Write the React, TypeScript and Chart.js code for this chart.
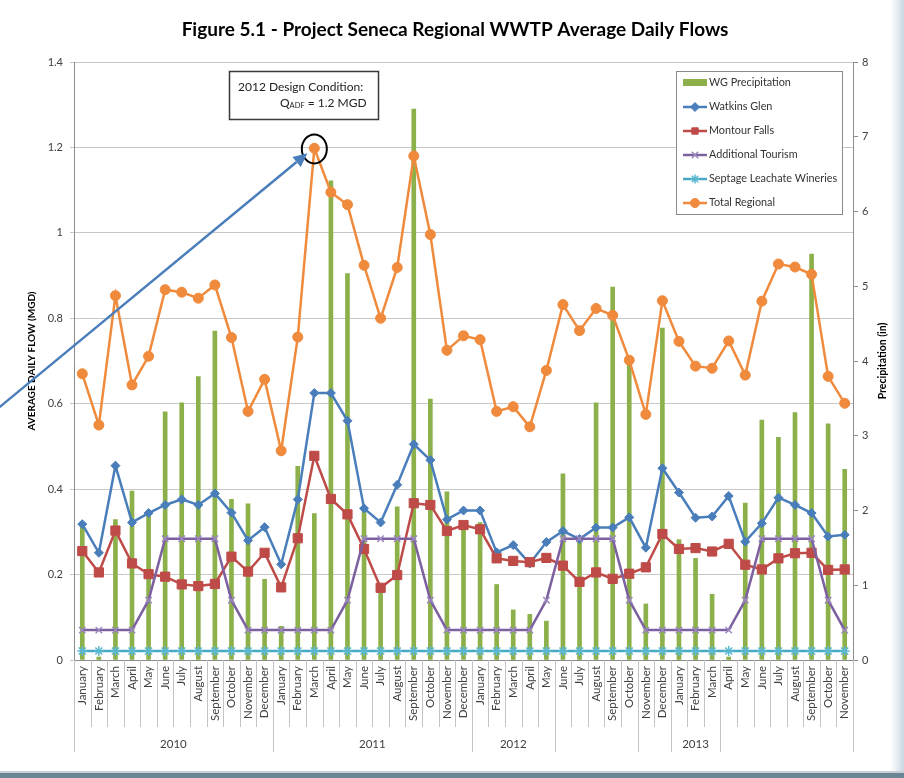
import React, { useEffect, useRef } from 'react';
import { Chart, registerables } from 'chart.js';
import { drawPoint } from 'chart.js/helpers';

Chart.register(...registerables);

const MONTH_NAMES = ['January', 'February', 'March', 'April', 'May', 'June', 'July', 'August', 'September', 'October', 'November', 'December'];
const categories = [...MONTH_NAMES, ...MONTH_NAMES, ...MONTH_NAMES, ...MONTH_NAMES.slice(0, 11)];

// Outer (year) category groups, as they appear on the reference axis
const yearGroupStarts = [0, 12, 24, 29, 34, 36, 39];
const yearGroupLabels = ['2010', '2011', '2012', '', '', '2013', ''];

const precipitation = [
  1.81, 0.04, 1.88, 2.26, 1.94, 3.32, 3.44, 3.79, 4.40, 2.15, 2.09, 1.08,
  0.45, 2.59, 1.96, 6.41, 5.17, 2.01, 0.90, 2.05, 7.37, 3.49, 2.25, 1.85,
  1.84, 1.01, 0.67, 0.61, 0.52, 2.49, 1.58, 3.44, 4.99, 3.97, 0.75, 4.44,
  1.61, 1.36, 0.88, 0.04, 2.10, 3.21, 2.98, 3.31, 5.43, 3.16, 2.55,
];
const watkinsGlen = [
  0.318, 0.251, 0.455, 0.322, 0.344, 0.363, 0.376, 0.363, 0.390, 0.345, 0.280, 0.311,
  0.224, 0.376, 0.625, 0.625, 0.560, 0.355, 0.322, 0.410, 0.505, 0.468, 0.329, 0.350,
  0.350, 0.252, 0.269, 0.226, 0.276, 0.302, 0.283, 0.310, 0.310, 0.334, 0.263, 0.449,
  0.392, 0.333, 0.336, 0.384, 0.277, 0.320, 0.380, 0.363, 0.344, 0.289, 0.293,
];
const montourFalls = [
  0.255, 0.205, 0.303, 0.226, 0.201, 0.195, 0.177, 0.173, 0.178, 0.242, 0.207, 0.251,
  0.170, 0.285, 0.478, 0.377, 0.341, 0.260, 0.169, 0.199, 0.367, 0.363, 0.302, 0.316,
  0.306, 0.238, 0.232, 0.229, 0.239, 0.221, 0.183, 0.205, 0.190, 0.202, 0.217, 0.295,
  0.260, 0.262, 0.254, 0.272, 0.223, 0.212, 0.238, 0.250, 0.251, 0.211, 0.212,
];
const additionalTourism = [
  0.07, 0.07, 0.07, 0.07, 0.14, 0.284, 0.284, 0.284, 0.284, 0.14, 0.07, 0.07,
  0.07, 0.07, 0.07, 0.07, 0.14, 0.284, 0.284, 0.284, 0.284, 0.14, 0.07, 0.07,
  0.07, 0.07, 0.07, 0.07, 0.14, 0.284, 0.284, 0.284, 0.284, 0.14, 0.07, 0.07,
  0.07, 0.07, 0.07, 0.07, 0.14, 0.284, 0.284, 0.284, 0.284, 0.14, 0.07,
];
const septageLeachateWineries = [
  0.021, 0.021, 0.021, 0.021, 0.021, 0.021, 0.021, 0.021, 0.021, 0.021, 0.021, 0.021,
  0.021, 0.021, 0.021, 0.021, 0.021, 0.021, 0.021, 0.021, 0.021, 0.021, 0.021, 0.021,
  0.021, 0.021, 0.021, 0.021, 0.021, 0.021, 0.021, 0.021, 0.021, 0.021, 0.021, 0.021,
  0.021, 0.021, 0.021, 0.021, 0.021, 0.021, 0.021, 0.021, 0.021, 0.021, 0.021,
];
const totalRegional = [
  0.670, 0.550, 0.853, 0.644, 0.711, 0.867, 0.861, 0.847, 0.878, 0.755, 0.582, 0.657,
  0.490, 0.756, 1.198, 1.095, 1.066, 0.924, 0.800, 0.919, 1.180, 0.996, 0.725, 0.759,
  0.750, 0.582, 0.593, 0.546, 0.678, 0.832, 0.771, 0.823, 0.807, 0.702, 0.575, 0.841,
  0.746, 0.688, 0.683, 0.747, 0.667, 0.840, 0.927, 0.920, 0.903, 0.664, 0.601,
];

const leftTicks = ['0', '0.2', '0.4', '0.6', '0.8', '1', '1.2', '1.4'];

const TITLE = 'Figure 5.1 - Project Seneca Regional WWTP Average Daily Flows';
const LEFT_TITLE = 'AVERAGE DAILY FLOW (MGD)';
const RIGHT_TITLE = 'Precipitation (in)';
const DESIGN_INDEX = 14;
const DESIGN_VALUE = 1.2;

const FONT = 'Lato, "Open Sans", sans-serif';

const decorPlugin = {
  id: 'decor',
  beforeDraw(chart: any) {
    const { ctx, width, height } = chart;
    ctx.save();
    ctx.fillStyle = '#ffffff';
    ctx.fillRect(0, 0, width, height);
    const g = ctx.createLinearGradient(890, 0, 904, 0);
    g.addColorStop(0, 'rgba(214,224,234,0)');
    g.addColorStop(1, 'rgba(200,213,226,1)');
    ctx.fillStyle = g;
    ctx.fillRect(890, 0, 14, height);
    ctx.fillStyle = '#c8d0d6';
    ctx.fillRect(0, 771, width, 2);
    ctx.fillStyle = '#6a8594';
    ctx.fillRect(0, 773, width, 5);
    ctx.restore();
  },
  afterDraw(chart: any) {
    const { ctx, chartArea } = chart;
    const xs = chart.scales.x;
    const ys = chart.scales.y;
    const n = categories.length;
    const catW = xs.getPixelForValue(1) - xs.getPixelForValue(0);
    const boundary = (i: number) => xs.getPixelForValue(Math.min(i, n - 1)) + (i < n ? -catW / 2 : catW / 2);
    ctx.save();

    // month separators
    ctx.strokeStyle = '#c4c4c4';
    ctx.lineWidth = 1;
    for (let i = 0; i <= n; i++) {
      const x = Math.round(boundary(i)) + 0.5;
      ctx.beginPath();
      ctx.moveTo(x, chartArea.bottom);
      ctx.lineTo(x, chartArea.bottom + 67);
      ctx.stroke();
    }
    // year group separators + labels
    const starts = [...yearGroupStarts, n];
    ctx.font = `11.5px ${FONT}`;
    ctx.fillStyle = '#404040';
    ctx.textAlign = 'center';
    ctx.textBaseline = 'middle';
    for (let k = 0; k < starts.length; k++) {
      const x = Math.round(boundary(starts[k])) + 0.5;
      ctx.beginPath();
      ctx.moveTo(x, chartArea.bottom);
      ctx.lineTo(x, chartArea.bottom + 92);
      ctx.stroke();
      if (k < yearGroupLabels.length && yearGroupLabels[k]) {
        const cx = (boundary(starts[k]) + boundary(starts[k + 1])) / 2;
        ctx.fillText(yearGroupLabels[k], cx, chartArea.bottom + 84);
      }
    }

    // title
    ctx.fillStyle = '#000';
    ctx.font = `bold 19px ${FONT}`;
    ctx.fillText(TITLE, 455, 30);

    // axis titles
    ctx.font = `bold 10px ${FONT}`;
    ctx.save();
    ctx.translate(32, (chartArea.top + chartArea.bottom) / 2);
    ctx.rotate(-Math.PI / 2);
    ctx.fillText(LEFT_TITLE, 0, 0);
    ctx.restore();
    ctx.font = `bold 10.5px ${FONT}`;
    ctx.save();
    ctx.translate(883, (chartArea.top + chartArea.bottom) / 2);
    ctx.rotate(-Math.PI / 2);
    ctx.fillText(RIGHT_TITLE, 0, 0);
    ctx.restore();

    // design condition: circle + arrow
    const px = xs.getPixelForValue(DESIGN_INDEX);
    const py = ys.getPixelForValue(DESIGN_VALUE);
    ctx.strokeStyle = '#000';
    ctx.lineWidth = 2;
    ctx.beginPath();
    ctx.ellipse(px, py + 1.5, 12.5, 14.5, 0, 0, Math.PI * 2);
    ctx.stroke();

    const sx = -10, sy = 415;
    const dx = px - sx, dy = py - sy;
    const len = Math.hypot(dx, dy);
    const ux = dx / len, uy = dy / len;
    const tipX = px - ux * 9, tipY = py - uy * 9 + 0;
    const headL = 14, headW = 6.5;
    const bx = tipX - ux * headL, by = tipY - uy * headL;
    ctx.strokeStyle = '#4A7EBB';
    ctx.fillStyle = '#4A7EBB';
    ctx.lineWidth = 2.5;
    ctx.beginPath();
    ctx.moveTo(sx, sy);
    ctx.lineTo(bx, by);
    ctx.stroke();
    ctx.beginPath();
    ctx.moveTo(tipX, tipY);
    ctx.lineTo(bx - uy * headW, by + ux * headW);
    ctx.lineTo(bx + uy * headW, by - ux * headW);
    ctx.closePath();
    ctx.fill();

    // design condition text box
    ctx.fillStyle = '#fff';
    ctx.fillRect(229.5, 71.5, 149, 48);
    ctx.strokeStyle = '#3a3a3a';
    ctx.lineWidth = 1.5;
    ctx.strokeRect(229.5, 71.5, 149, 48);
    ctx.fillStyle = '#222';
    ctx.textAlign = 'left';
    ctx.font = `12px ${FONT}`;
    ctx.fillText('2012 Design Condition:', 238, 87);
    let tx = 280;
    ctx.fillText('Q', tx, 103);
    tx += ctx.measureText('Q').width;
    ctx.font = `7.5px ${FONT}`;
    ctx.fillText('ADF', tx, 106);
    tx += ctx.measureText('ADF').width;
    ctx.font = `12px ${FONT}`;
    ctx.fillText(' = 1.2 MGD', tx, 103);

    // legend
    ctx.fillStyle = '#fff';
    ctx.fillRect(676.5, 71.5, 166, 143);
    ctx.strokeStyle = '#8a8a8a';
    ctx.lineWidth = 1;
    ctx.strokeRect(676.5, 71.5, 166, 143);
    const rowY = [82.5, 107, 131, 155, 179, 203];
    chart.data.datasets.forEach((ds: any, i: number) => {
      const y = rowY[i];
      if (ds.type === 'bar') {
        ctx.fillStyle = ds.backgroundColor;
        ctx.fillRect(683, y - 3.5, 24, 7);
      } else {
        ctx.strokeStyle = ds.borderColor;
        ctx.lineWidth = 2.5;
        ctx.beginPath();
        ctx.moveTo(683, y);
        ctx.lineTo(707, y);
        ctx.stroke();
        ctx.fillStyle = ds.pointBackgroundColor;
        ctx.strokeStyle = ds.pointBorderColor;
        ctx.lineWidth = ds.pointBorderWidth;
        drawPoint(ctx, { pointStyle: ds.pointStyle, rotation: 0, radius: Math.min(ds.pointRadius, 4.5), borderWidth: ds.pointBorderWidth }, 695, y);
      }
      ctx.fillStyle = '#333';
      ctx.font = `10.8px ${FONT}`;
      ctx.textAlign = 'left';
      ctx.textBaseline = 'middle';
      ctx.fillText(ds.label, 709, y);
    });

    ctx.restore();
  },
};

export default function App() {
  const ref = useRef<HTMLCanvasElement>(null);
  useEffect(() => {
    const canvas = ref.current;
    if (!canvas) return;
    const lineBase = { type: 'line', yAxisID: 'y', fill: false, tension: 0, borderWidth: 2.5 };
    const chart = new Chart(canvas, {
      type: 'bar',
      data: {
        labels: categories,
        datasets: [
          { type: 'bar', label: 'WG Precipitation', data: precipitation, yAxisID: 'y2', backgroundColor: '#8CB04A', barThickness: 4, order: 10 },
          { ...lineBase, label: 'Watkins Glen', data: watkinsGlen, borderColor: '#4A7EBB', backgroundColor: '#4A7EBB', pointBackgroundColor: '#4A7EBB', pointBorderColor: '#4A7EBB', pointBorderWidth: 1, pointStyle: 'rectRot', pointRadius: 4.5, order: 6 },
          { ...lineBase, label: 'Montour Falls', data: montourFalls, borderColor: '#BE4B48', backgroundColor: '#BE4B48', pointBackgroundColor: '#BE4B48', pointBorderColor: '#BE4B48', pointBorderWidth: 1, pointStyle: 'rect', pointRadius: 6.5, order: 5 },
          { ...lineBase, label: 'Additional Tourism', data: additionalTourism, borderColor: '#7D60A0', backgroundColor: '#7D60A0', pointBackgroundColor: '#7D60A0', pointBorderColor: '#9C87C0', pointBorderWidth: 1.5, pointStyle: 'crossRot', pointRadius: 4.5, order: 4 },
          { ...lineBase, label: 'Septage Leachate Wineries', data: septageLeachateWineries, borderColor: '#46AAC5', backgroundColor: '#46AAC5', pointBackgroundColor: '#46AAC5', pointBorderColor: '#5BB8D0', pointBorderWidth: 1.5, pointStyle: 'star', pointRadius: 5, order: 3 },
          { ...lineBase, label: 'Total Regional', data: totalRegional, borderColor: '#F08A3C', backgroundColor: '#F08A3C', pointBackgroundColor: '#F08A3C', pointBorderColor: '#F08A3C', pointBorderWidth: 1, pointStyle: 'circle', pointRadius: 5, order: 2 },
        ] as any,
      },
      options: {
        responsive: false,
        animation: false,
        layout: { padding: { top: 62, left: 0, right: 0, bottom: 0 } },
        plugins: { legend: { display: false }, tooltip: { enabled: false }, title: { display: false } },
        scales: {
          x: {
            type: 'category',
            offset: true,
            grid: { display: false, drawTicks: false },
            border: { display: true, color: '#8c8c8c' },
            ticks: { autoSkip: false, maxRotation: 90, minRotation: 90, padding: 6, color: '#404040', font: { family: FONT, size: 11.5 } },
            afterFit: (s: any) => { s.height = 118; },
          },
          y: {
            position: 'left',
            min: 0,
            max: 1.4,
            ticks: {
              stepSize: 0.2,
              padding: 7,
              color: '#404040',
              font: { family: FONT, size: 11 },
              callback: (_v: any, i: number) => leftTicks[i],
            },
            grid: { color: '#c8c8c8', tickLength: 4 },
            border: { color: '#8c8c8c' },
            afterFit: (s: any) => { s.width = 74; },
          },
          y2: {
            position: 'right',
            min: 0,
            max: 8,
            ticks: { stepSize: 1, padding: 4, color: '#404040', font: { family: FONT, size: 11 } },
            grid: { drawOnChartArea: false, tickLength: 5, color: '#8c8c8c' },
            border: { color: '#8c8c8c' },
            afterFit: (s: any) => { s.width = 51; },
          },
        },
      } as any,
      plugins: [decorPlugin],
    });
    return () => chart.destroy();
  }, []);
  return (
    <div style={{ position: 'absolute', left: 0, top: 0, width: 904, height: 778, background: '#fff' }}>
      <canvas ref={ref} width={904} height={778} style={{ width: 904, height: 778, display: 'block' }} />
    </div>
  );
}
